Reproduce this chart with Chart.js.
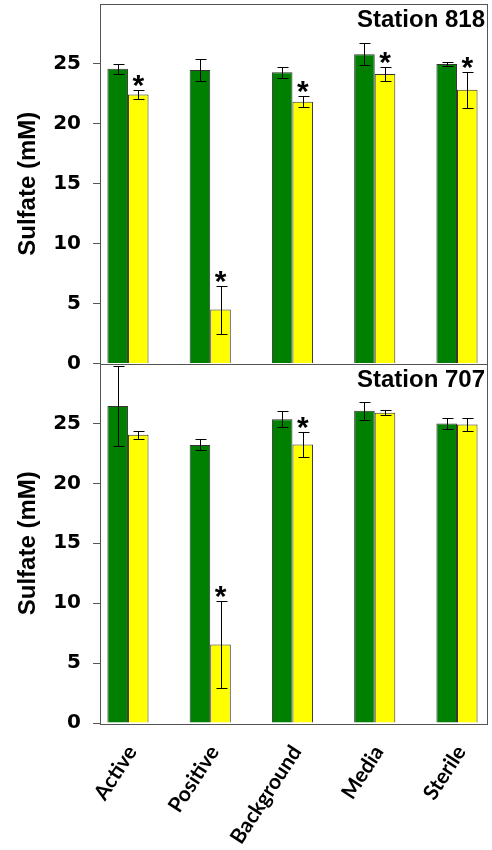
<!DOCTYPE html>
<html>
<head>
<meta charset="utf-8">
<script src="https://cdn.jsdelivr.net/npm/chart.js@4"></script>
<style>
  html, body { margin: 0; padding: 0; background: #fff; }
  #wrap { position: relative; width: 492px; height: 850px; }
</style>
</head>
<body>
<div id="wrap"><canvas id="sulfateChart"></canvas></div>
<script>
// categories along the x axis
const categories = ['Active', 'Positive', 'Background', 'Media', 'Sterile'];

// Station 818 (top panel)
const st818Green = [24.6, 24.5, 24.3, 25.8, 25.0];
const st818GreenErr = [0.43, 0.95, 0.47, 0.93, 0.19];
const st818Yellow = [22.45, 4.5, 21.85, 24.15, 22.85];
const st818YellowErr = [0.35, 2.0, 0.47, 0.59, 1.5];
const st818Stars = [true, true, true, true, true];

// Station 707 (bottom panel)
const st707Green = [26.45, 23.2, 25.35, 26.05, 25.0];
const st707GreenErr = [3.35, 0.46, 0.69, 0.75, 0.45];
const st707Yellow = [24.05, 6.55, 23.25, 25.9, 24.9];
const st707YellowErr = [0.32, 3.6, 1.06, 0.22, 0.55];
const st707Stars = [false, true, true, false, false];

const noStars = [false, false, false, false, false];
const yTickValues = [0, 5, 10, 15, 20, 25];

const GREEN = '#008000';
const YELLOW = '#ffff00';
const FRAME = '#555555';

function toPoints(values) {
    return values.map((v, i) => ({ x: i, y: v }));
}

function makeDataset(values, errs, stars, color, stack, axis) {
    return {
        data: toPoints(values),
        errors: errs,
        stars: stars,
        backgroundColor: color,
        borderColor: '#333333',
        borderWidth: 1,
        stack: stack,
        yAxisID: axis,
        categoryPercentage: 0.5,
        barPercentage: 1.0
    };
}

function yScale(station) {
    return {
        type: 'linear',
        position: 'left',
        stack: 'panels',
        stackWeight: 1,
        stacked: false,
        min: 0,
        max: 30,
        afterBuildTicks: (scale) => {
            scale.ticks = yTickValues.map(v => ({ value: v }));
        },
        afterFit: (scale) => {
            scale.width = 100;
            scale.paddingTop = 0;
            scale.paddingBottom = 0;
        },
        ticks: {
            color: '#000',
            padding: 12,
            font: { family: 'DejaVu Sans', weight: 'bold', size: 20 }
        },
        grid: {
            drawOnChartArea: false,
            drawTicks: true,
            tickLength: 7,
            color: FRAME
        },
        border: { display: true, color: FRAME },
        title: {
            display: true,
            text: 'Sulfate (mM)',
            color: '#000',
            padding: { top: 14, bottom: 0 },
            font: { family: 'Liberation Sans', weight: 'bold', size: 24 }
        },
        station: station
    };
}

// frame, error bars, asterisks and station names
const extrasPlugin = {
    id: 'extras',
    afterDatasetsDraw(chart) {
        const ctx = chart.ctx;
        const area = chart.chartArea;
        ctx.save();

        // panel frames
        ctx.strokeStyle = FRAME;
        ctx.lineWidth = 1;
        ['yTop', 'yBot'].forEach(id => {
            const s = chart.scales[id];
            ctx.strokeRect(Math.round(area.left) + 0.5, Math.round(s.top) + 0.5,
                Math.round(area.right - area.left), Math.round(s.bottom - s.top));
        });

        // error bars
        ctx.strokeStyle = '#000';
        chart.data.datasets.forEach((ds, di) => {
            const meta = chart.getDatasetMeta(di);
            const ys = chart.scales[ds.yAxisID];
            meta.data.forEach((bar, i) => {
                const v = ds.data[i].y;
                const e = ds.errors[i];
                const x = Math.round(bar.x) + 0.5;
                const yHi = Math.round(ys.getPixelForValue(v + e)) + 0.5;
                const yLo = Math.round(ys.getPixelForValue(v - e)) + 0.5;
                ctx.beginPath();
                ctx.moveTo(x, yHi); ctx.lineTo(x, yLo);
                ctx.moveTo(x - 5, yHi); ctx.lineTo(x + 6, yHi);
                ctx.moveTo(x - 5, yLo); ctx.lineTo(x + 6, yLo);
                ctx.stroke();

                if (ds.stars[i]) {
                    ctx.fillStyle = '#000';
                    ctx.font = 'bold 30px "Liberation Sans"';
                    ctx.textAlign = 'center';
                    ctx.textBaseline = 'alphabetic';
                    ctx.fillText('*', bar.x, ys.getPixelForValue(v + e) + 5);
                }
            });
        });

        // station labels
        ctx.fillStyle = '#000';
        ctx.font = 'bold 24px "Liberation Sans"';
        ctx.textAlign = 'right';
        ctx.textBaseline = 'alphabetic';
        ['yTop', 'yBot'].forEach(id => {
            const s = chart.scales[id];
            ctx.fillText(s.options.station, area.right - 2, s.top + 23);
        });
        ctx.restore();
    }
};

new Chart(document.getElementById('sulfateChart'), {
    type: 'bar',
    data: {
        datasets: [
            makeDataset(st818Green, st818GreenErr, noStars, GREEN, 'g', 'yTop'),
            makeDataset(st818Yellow, st818YellowErr, st818Stars, YELLOW, 'y', 'yTop'),
            makeDataset(st707Green, st707GreenErr, noStars, GREEN, 'g', 'yBot'),
            makeDataset(st707Yellow, st707YellowErr, st707Stars, YELLOW, 'y', 'yBot')
        ]
    },
    options: {
        responsive: true,
        maintainAspectRatio: false,
        animation: false,
        layout: { padding: { left: 0, top: 4, right: 5, bottom: 0 } },
        plugins: {
            legend: { display: false },
            tooltip: { enabled: false }
        },
        scales: {
            x: {
                type: 'linear',
                offset: false,
                min: -0.34,
                max: 4.365,
                afterBuildTicks: (scale) => {
                    scale.ticks = categories.map((c, i) => ({ value: i }));
                },
                afterFit: (scale) => {
                    scale.height = 127;
                    scale.paddingLeft = 0;
                    scale.paddingRight = 0;
                },
                grid: { display: false, offset: false },
                border: { display: false },
                ticks: {
                    autoSkip: false,
                    minRotation: 57,
                    maxRotation: 57,
                    padding: 10,
                    labelOffset: 4,
                    color: '#000',
                    font: { family: 'Lato', weight: 'bold', size: 21 },
                    callback: (v) => categories[v]
                }
            },
            // the first scale of a stack is placed at the bottom
            yBot: yScale('Station 707'),
            yTop: yScale('Station 818')
        }
    },
    plugins: [extrasPlugin]
});
</script>
</body>
</html>
